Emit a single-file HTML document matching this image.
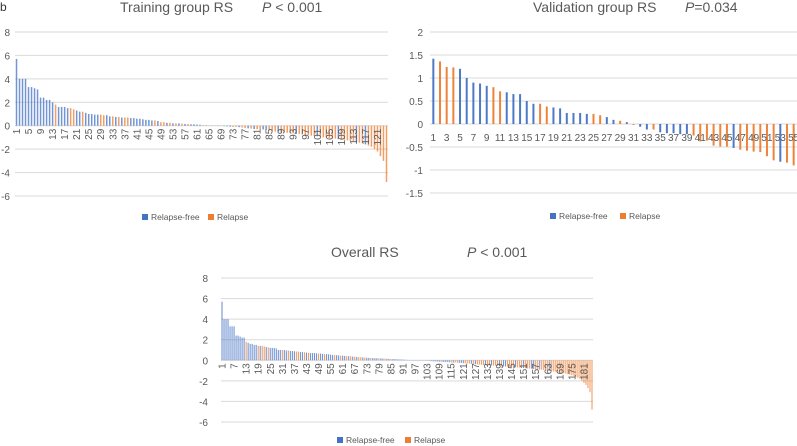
<!DOCTYPE html>
<html><head><meta charset="utf-8"><style>
html,body{margin:0;padding:0;background:#fff;}
svg{display:block;font-family:"Liberation Sans",sans-serif;}
</style></head><body>
<svg id="s" width="797" height="446" viewBox="0 0 797 446">
<text x="0" y="11" font-size="12" fill="#333">b</text>
</svg>
<script>
const trainValues=[5.7,4,4,4,3.3,3.3,3.2,3.1,2.4,2.4,2.2,2.2,2.0,1.8,1.6,1.6,1.6,1.5,1.5,1.4,1.3,1.2,1.2,1.1,1.0,1.0,0.95,0.95,0.95,0.9,0.9,0.8,0.8,0.75,0.75,0.7,0.7,0.7,0.65,0.65,0.6,0.6,0.55,0.5,0.5,0.45,0.45,0.4,0.3,0.3,0.25,0.25,0.2,0.2,0.2,0.18,0.15,0.15,0.12,0.12,0.1,0.08,0.05,0.03,0.02,0.01,0,0,-0.02,-0.04,-0.06,-0.08,-0.1,-0.1,-0.12,-0.15,-0.2,-0.22,-0.25,-0.28,-0.3,-0.3,-0.32,-0.35,-0.4,-0.45,-0.5,-0.5,-0.55,-0.55,-0.6,-0.6,-0.65,-0.7,-0.7,-0.75,-0.8,-0.8,-0.85,-0.9,-0.9,-0.95,-1.0,-1.0,-1.05,-1.1,-1.1,-1.15,-1.2,-1.2,-1.25,-1.3,-1.3,-1.4,-1.45,-1.5,-1.6,-1.7,-1.8,-2.0,-2.2,-2.6,-3.0,-4.8];
const trainGroups="BBBBBBBBBBBBBOBBBBOOBBOBBBBBOOBBOBOBOOBBBBBBBBOBOOBOBOBOBOBBBBOBOBOBOBBBOOBOOBOBOOBBOOOBOOOOOBOOOOOOBOOOOOOBOOOOOBOOBOOOOOOO";
const valValues=[1.42,1.36,1.24,1.23,1.2,1.0,0.9,0.88,0.83,0.8,0.71,0.69,0.65,0.65,0.5,0.44,0.44,0.38,0.36,0.34,0.24,0.24,0.24,0.22,0.22,0.19,0.15,0.09,0.07,0.04,-0.02,-0.06,-0.12,-0.12,-0.18,-0.2,-0.2,-0.22,-0.22,-0.25,-0.38,-0.36,-0.47,-0.49,-0.49,-0.52,-0.56,-0.58,-0.6,-0.61,-0.7,-0.79,-0.82,-0.84,-0.9];
const valGroups="BOOOBBBBBOOBBBBBOOBBBBBBOOBBOBOBBOBBBBBOOOOOOBOOOOOOBOO";
const allValues=[5.7,4,4,4,3.3,3.3,3.3,2.4,2.4,2.3,2.2,2.2,1.8,1.7,1.6,1.6,1.5,1.5,1.4,1.4,1.4,1.35,1.3,1.25,1.2,1.2,1.2,1.15,1.0,1.0,1.0,1.0,0.95,0.95,0.9,0.9,0.88,0.85,0.85,0.8,0.8,0.78,0.75,0.72,0.7,0.7,0.7,0.68,0.65,0.65,0.62,0.6,0.6,0.58,0.55,0.52,0.5,0.5,0.48,0.45,0.45,0.42,0.4,0.4,0.38,0.36,0.35,0.33,0.3,0.3,0.28,0.26,0.25,0.24,0.22,0.22,0.2,0.2,0.2,0.18,0.17,0.16,0.15,0.14,0.13,0.12,0.11,0.1,0.09,0.08,0.07,0.06,0.04,0.03,0.02,0.01,0,0,0,0,0,-0.02,-0.04,-0.06,-0.08,-0.1,-0.12,-0.12,-0.14,-0.15,-0.16,-0.17,-0.18,-0.2,-0.2,-0.22,-0.22,-0.24,-0.25,-0.26,-0.28,-0.3,-0.3,-0.32,-0.34,-0.36,-0.38,-0.4,-0.42,-0.44,-0.46,-0.48,-0.5,-0.5,-0.5,-0.52,-0.52,-0.55,-0.55,-0.58,-0.6,-0.6,-0.6,-0.62,-0.65,-0.65,-0.68,-0.7,-0.7,-0.72,-0.75,-0.78,-0.8,-0.8,-0.82,-0.85,-0.88,-0.9,-0.9,-0.92,-0.95,-1.0,-1.0,-1.02,-1.05,-1.1,-1.1,-1.15,-1.2,-1.2,-1.25,-1.3,-1.35,-1.4,-1.45,-1.5,-1.6,-1.7,-1.8,-2.0,-2.2,-2.4,-2.7,-3.1,-4.8];
const allGroups="BBBBBBBBBBBBOBBBBBOBOOBOBBBBBBOBBOBBBOOBBOBOBBBBOBBOBBBBOBBOBBOBOBOBOOBOBBOBBBOBBOBBOBBBBBBBBBBBBBBBBBBOBBBBBOBBBBOBOOBBBOOOBOBOOOOBOOBOOOBOBBOOOOBOOOBOOOBBOOBOOOOBOOOOOOOOOOOOOOOOO";
const trainTicks=[8,6,4,2,0,-2,-4,-6];
const valTicks=[2,1.5,1,0.5,0,-0.5,-1,-1.5];
const allTicks=[8,6,4,2,0,-2,-4,-6];

const NS="http://www.w3.org/2000/svg";
const svg=document.getElementById('s');
function mk(tag,attrs,parent){const e=document.createElementNS(NS,tag);for(const k in attrs)e.setAttribute(k,attrs[k]);(parent||svg).appendChild(e);return e;}
const COL={B:'#4472C4',O:'#ED7D31'};

function chart(cfg){
  const g=mk('g',{});
  
  
  const tmax=cfg.ticks[0],tmin=cfg.ticks[cfg.ticks.length-1];
  const y=v=>cfg.top+(tmax-v)/(tmax-tmin)*(cfg.bottom-cfg.top);
  const n=cfg.values.length;
  const cw=(cfg.right-cfg.left)/n;
  const x=i=>cfg.left+(i+0.5)*cw;
  cfg.ticks.forEach(t=>{
    const l=mk('line',{x1:cfg.left,x2:cfg.right,y1:y(t),y2:y(t),stroke:'#d9d9d9','stroke-width':1},g);
    
    
    const tx=mk('text',{x:cfg.tickX,y:y(t)+4,'text-anchor':'end','font-size':10,fill:'#595959'},g);
    tx.textContent=String(t);
    
    
  });
  cfg.values.forEach((v,i)=>{
    const grp=cfg.groups[i]||(v>=0?'B':'O');
    const y0=y(0),y1=y(v);
    const r=mk('rect',{x:x(i)-cfg.bw/2,y:Math.min(y0,y1),width:cfg.bw,height:Math.max(Math.abs(y1-y0),0.3),fill:COL[grp],opacity:cfg.op},g);
    
    
  });
  for(let i=0;i<n;i+=cfg.step){
    const lbl=String(i+1);
    let t;
    if(cfg.rotate){
      t=mk('text',{x:0,y:0,'text-anchor':'end','font-size':10,fill:'#595959',transform:`translate(${x(i)+3.5},${y(0)+3}) rotate(-90)`},g);
    }else{
      t=mk('text',{x:x(i),y:y(0)+17,'text-anchor':'middle','font-size':10,fill:'#595959'},g);
    }
    t.textContent=lbl;
    
    
  }
  const t1=mk('text',{x:cfg.titleX,y:cfg.titleY,'font-size':14,fill:'#595959'},g);
  t1.textContent=cfg.title;
  
  
  const t2=mk('text',{x:cfg.pX,y:cfg.titleY,'font-size':14,fill:'#595959'},g);
  t2.innerHTML='<tspan font-style="italic">P</tspan>'+cfg.pText;
  
  
  const lg=mk('g',{},g);
  
  
  [['B','Relapse-free',cfg.legX],['O','Relapse',cfg.legX+cfg.legGap]].forEach(([k,txt,lx])=>{
    const sq=mk('rect',{x:lx,y:cfg.legY-6,width:6,height:6,fill:COL[k]},lg);
    
    
    const lt=mk('text',{x:lx+9,y:cfg.legY,'font-size':8.5,fill:'#595959'},lg);
    lt.textContent=txt;
    
    
  });
}
chart({name:'training-chart',values:trainValues,groups:trainGroups,ticks:trainTicks,left:15,right:388,top:32,bottom:196,tickX:10,bw:1.5,op:0.75,step:4,rotate:true,title:'Training group RS',titleX:120,titleY:12,pX:262,pText:' < 0.001',legX:142,legGap:66,legY:220});
chart({name:'validation-chart',values:valValues,groups:valGroups,ticks:valTicks,left:430,right:797,top:32,bottom:193,tickX:423,bw:2,op:0.95,step:2,rotate:false,title:'Validation group RS',titleX:533,titleY:12,pX:685,pText:'=0.034',legX:550,legGap:70,legY:219});
chart({name:'overall-chart',values:allValues,groups:allGroups,ticks:allTicks,left:221,right:593,top:278,bottom:422,tickX:208,bw:1.1,op:0.75,step:6,rotate:true,title:'Overall RS',titleX:331,titleY:257,pX:467,pText:' < 0.001',legX:337,legGap:68,legY:443});
</script>
</body></html>
